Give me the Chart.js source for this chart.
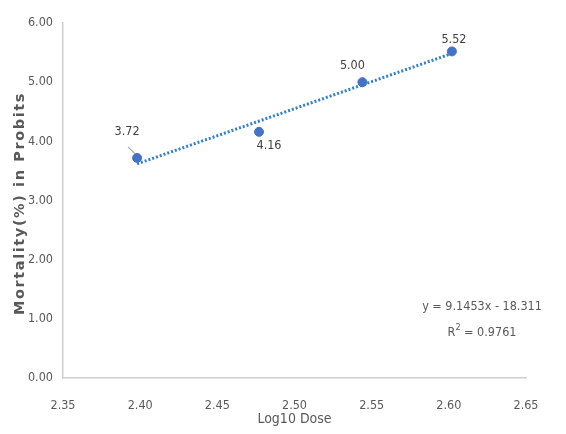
<!DOCTYPE html>
<html><head><meta charset="utf-8">
<script src="https://cdn.jsdelivr.net/npm/chart.js@4/dist/chart.umd.min.js"></script>
<style>html,body{margin:0;padding:0;background:#fff}#wrap{width:566px;height:434px}</style>
</head><body><div id="wrap"><canvas id="c" width="566" height="434"></canvas></div>
<script>
const logDose = [2.398, 2.477, 2.544, 2.602];
const probits = [3.72, 4.16, 5.00, 5.52];
const pointLabels = ['3.72', '4.16', '5.00', '5.52'];
const xTicks = [2.35, 2.40, 2.45, 2.50, 2.55, 2.60, 2.65];
const yTicks = [0, 1, 2, 3, 4, 5, 6];
const slope = 9.1453, intercept = -18.311;
const trend = [logDose[0], logDose[logDose.length-1]].map(x => ({x, y: slope*x + intercept}));
const yTitle = 'Mortality(%) in Probits';

const FONT = "'DejaVu Sans Condensed','Liberation Sans Narrow',sans-serif";
const GREY = '#595959';

const labelPlugin = {
  id: 'labels',
  afterDatasetsDraw(chart) {
    const ctx = chart.ctx;
    const meta = chart.getDatasetMeta(0);
    const offs = [[-10,-26],[10,14],[-10,-16],[2,-12]];
    ctx.save();
    ctx.font = "12.5px " + FONT;
    ctx.fillStyle = '#404040';
    ctx.textAlign = 'center'; ctx.textBaseline = 'middle';
    meta.data.forEach((p, i) => {
      ctx.fillText(pointLabels[i], p.x + offs[i][0], p.y + offs[i][1]);
    });
    const p0 = meta.data[0];
    ctx.strokeStyle = '#a6a6a6'; ctx.lineWidth = 1.2;
    ctx.beginPath(); ctx.moveTo(p0.x - 9, p0.y - 11); ctx.lineTo(p0.x - 2, p0.y - 4); ctx.stroke();
    const a = chart.chartArea;
    ctx.fillStyle = GREY;
    ctx.font = "12.5px " + FONT;
    const cx = a.right - 44, cy = a.top + 284;
    ctx.fillText('y = ' + slope + 'x - ' + Math.abs(intercept), cx, cy);
    const left = 'R', right = ' = 0.9761';
    const wL = ctx.measureText(left).width, wR = ctx.measureText(right).width;
    ctx.font = "9px " + FONT; const wS = ctx.measureText('2').width;
    const total = wL + wS + wR; let sx = cx - total/2;
    ctx.textAlign = 'left';
    ctx.font = "12.5px " + FONT; ctx.fillText(left, sx, cy + 26); sx += wL;
    ctx.font = "9px " + FONT; ctx.fillText('2', sx, cy + 21); sx += wS;
    ctx.font = "12.5px " + FONT; ctx.fillText(right, sx, cy + 26);
    ctx.save();
    ctx.translate(20, (a.top + a.bottom) / 2 + 3);
    ctx.rotate(-Math.PI / 2);
    ctx.font = "bold 14.5px 'DejaVu Sans',sans-serif";
    if ('letterSpacing' in ctx) ctx.letterSpacing = '1.6px';
    ctx.fillStyle = GREY; ctx.textAlign = 'center'; ctx.textBaseline = 'middle';
    ctx.fillText(yTitle, 0, 0);
    ctx.restore();
    ctx.restore();
  }
};

new Chart(document.getElementById('c'), {
  type: 'scatter',
  data: {
    datasets: [
      { data: logDose.map((x,i)=>({x, y: probits[i]})), backgroundColor: '#4472C4', borderColor: '#4472C4', pointRadius: 4.5, order: 0 },
      { type: 'line', data: trend, borderColor: '#2E7FD0', borderWidth: 3, borderDash: [2,2], pointRadius: 0, fill: false, order: 1 }
    ]
  },
  options: {
    responsive: false, animation: false,
    layout: { padding: { top: 23, right: 40, bottom: 6, left: 6 } },
    plugins: { legend: { display: false }, tooltip: { enabled: false } },
    scales: {
      x: {
        type: 'linear', min: 2.35, max: 2.65,
        afterBuildTicks: s => { s.ticks = xTicks.map(v => ({value: v})); },
        grid: { display: false, drawTicks: false },
        border: { color: '#d0d0d0', width: 1.5 },
        ticks: { color: GREY, font: { family: FONT, size: 12.5 }, padding: 20, callback: v => v.toFixed(2), maxRotation: 0 },
        title: { display: true, text: 'Log10 Dose', color: GREY, font: { family: FONT, size: 14 }, padding: { top: -4, bottom: 0 } },
        afterFit: s => { s.height = 50; }
      },
      y: {
        min: 0, max: 6,
        afterBuildTicks: s => { s.ticks = yTicks.map(v => ({value: v})); },
        grid: { display: false, drawTicks: false },
        border: { color: '#d0d0d0', width: 1.5 },
        ticks: { color: GREY, font: { family: FONT, size: 12.5 }, padding: 10, callback: v => v.toFixed(2) },
        title: { display: false },
        afterFit: s => { s.width = 57; }
      }
    }
  },
  plugins: [labelPlugin]
});
</script></body></html>
